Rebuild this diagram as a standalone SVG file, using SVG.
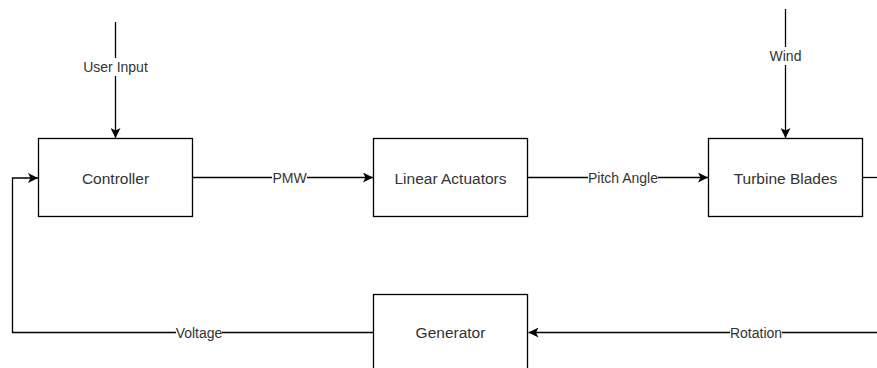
<svg xmlns="http://www.w3.org/2000/svg" width="877" height="368" viewBox="0 0 877 368">
<style>
.box{fill:#fff;stroke:#000;stroke-width:1.3}
.edge{fill:none;stroke:#000;stroke-width:1.3}
.lbl{font-family:"Liberation Sans",Arial,sans-serif;font-size:15.5px;fill:#333;text-anchor:middle}
.elbl{font-family:"Liberation Sans",Arial,sans-serif;font-size:14px;fill:#333;text-anchor:middle}
.bg{fill:#fff}
</style>
<defs>
<marker id="arr" viewBox="0 0 10 10" refX="10" refY="5" markerWidth="10" markerHeight="10" markerUnits="userSpaceOnUse" orient="auto">
<path d="M0,0 L10,5 L0,10 L2.5,5 Z" fill="#000"/>
</marker>
</defs>
<rect width="877" height="368" fill="#fff"/>
<g id="connectors">
<path class="edge" d="M115.5,22 V138" marker-end="url(#arr)"/>
<path class="edge" d="M785.5,9 V138" marker-end="url(#arr)"/>
<path class="edge" d="M193,177.5 H373" marker-end="url(#arr)"/>
<path class="edge" d="M528,177.5 H708" marker-end="url(#arr)"/>
<path class="edge" d="M863,177.5 H877"/>
<path class="edge" d="M877,332.5 H528.5" marker-end="url(#arr)"/>
<path class="edge" d="M373,332.5 H12.5 V178 H38" marker-end="url(#arr)"/>
<rect class="bg" x="84" y="58" width="63" height="18"/>
<text class="elbl" x="115.5" y="72">User Input</text>
<rect class="bg" x="770" y="47" width="31" height="18"/>
<text class="elbl" x="785.5" y="61">Wind</text>
<rect class="bg" x="272" y="169" width="35" height="18"/>
<text class="elbl" x="289.5" y="183">PMW</text>
<rect class="bg" x="588" y="169" width="70" height="18"/>
<text class="elbl" x="623" y="183">Pitch Angle</text>
<rect class="bg" x="176" y="324" width="46" height="18"/>
<text class="elbl" x="199" y="338">Voltage</text>
<rect class="bg" x="730" y="324" width="52" height="18"/>
<text class="elbl" x="756" y="338">Rotation</text>
</g>
<g id="controller">
<rect class="box" x="38.5" y="138.5" width="154" height="78"/>
<text class="lbl" x="115.5" y="183.5">Controller</text>
</g>
<g id="linear-actuators">
<rect class="box" x="373.5" y="138.5" width="154" height="78"/>
<text class="lbl" x="450.5" y="183.5">Linear Actuators</text>
</g>
<g id="turbine-blades">
<rect class="box" x="708.5" y="138.5" width="154" height="78"/>
<text class="lbl" x="785.5" y="183.5">Turbine Blades</text>
</g>
<g id="generator">
<rect class="box" x="373.5" y="294.5" width="154" height="78"/>
<text class="lbl" x="450.5" y="338">Generator</text>
</g>
</svg>
